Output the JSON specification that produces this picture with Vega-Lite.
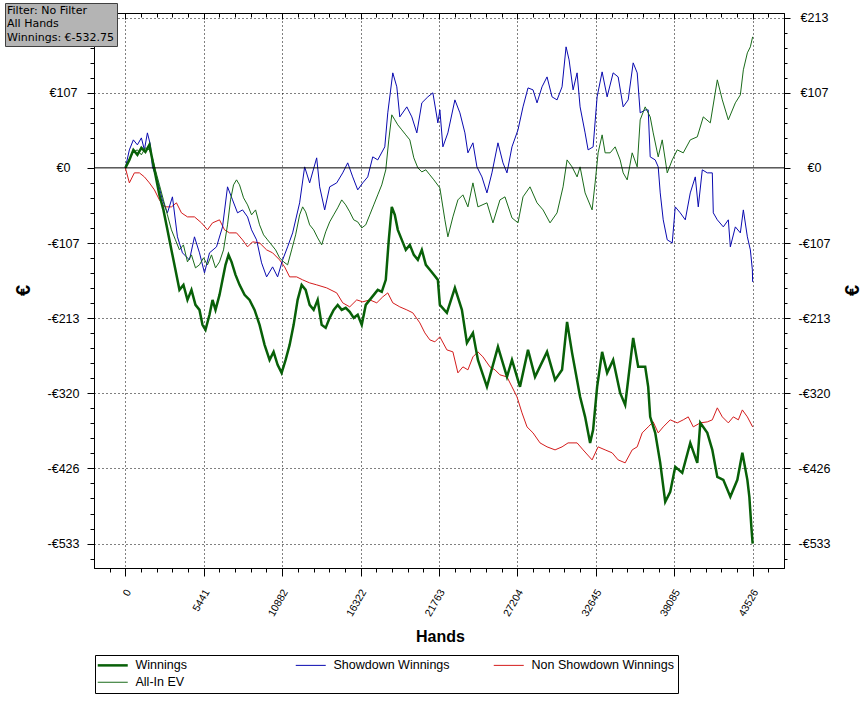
{
  "$schema": "https://vega.github.io/schema/vega-lite/v6.json",
  "autosize": "none",
  "width": 690,
  "height": 555,
  "padding": {"left": 94, "top": 13, "right": 80, "bottom": 134},
  "background": "white",
  "config": {
    "view": {"stroke": "black", "strokeWidth": 1},
    "axis": {"labelColor": "black", "tickColor": "black", "domainColor": "black", "titleColor": "black", "titleFont": "Liberation Sans", "titleFontWeight": "bold"}
  },
  "resolve": {"axis": {"x": "independent", "y": "independent"}},
  "layer": [
    {
      "data": {"values": [
        {"s":"Non Showdown Winnings","h":0,"v":0},{"s":"Non Showdown Winnings","h":278,"v":-21.3},{"s":"Non Showdown Winnings","h":626,"v":-7.1},{"s":"Non Showdown Winnings","h":973,"v":-7.1},{"s":"Non Showdown Winnings","h":1321,"v":-12.8},{"s":"Non Showdown Winnings","h":1668,"v":-21.3},{"s":"Non Showdown Winnings","h":2016,"v":-31.2},{"s":"Non Showdown Winnings","h":2363,"v":-45.4},{"s":"Non Showdown Winnings","h":2711,"v":-55.3},{"s":"Non Showdown Winnings","h":3197,"v":-55.3},{"s":"Non Showdown Winnings","h":3545,"v":-49.6},{"s":"Non Showdown Winnings","h":3892,"v":-63.8},{"s":"Non Showdown Winnings","h":4309,"v":-69.5},{"s":"Non Showdown Winnings","h":4796,"v":-69.5},{"s":"Non Showdown Winnings","h":5282,"v":-78.0},{"s":"Non Showdown Winnings","h":5699,"v":-87.9},{"s":"Non Showdown Winnings","h":6047,"v":-78.0},{"s":"Non Showdown Winnings","h":6533,"v":-73.7},{"s":"Non Showdown Winnings","h":6881,"v":-87.9},{"s":"Non Showdown Winnings","h":7228,"v":-92.2},{"s":"Non Showdown Winnings","h":7715,"v":-92.2},{"s":"Non Showdown Winnings","h":8132,"v":-102.1},{"s":"Non Showdown Winnings","h":8479,"v":-112.0},{"s":"Non Showdown Winnings","h":8827,"v":-104.9},{"s":"Non Showdown Winnings","h":9313,"v":-106.4},{"s":"Non Showdown Winnings","h":9800,"v":-116.3},{"s":"Non Showdown Winnings","h":10217,"v":-120.5},{"s":"Non Showdown Winnings","h":10703,"v":-130.5},{"s":"Non Showdown Winnings","h":11051,"v":-140.4},{"s":"Non Showdown Winnings","h":11398,"v":-154.6},{"s":"Non Showdown Winnings","h":11885,"v":-154.6},{"s":"Non Showdown Winnings","h":12302,"v":-158.8},{"s":"Non Showdown Winnings","h":12788,"v":-163.1},{"s":"Non Showdown Winnings","h":13275,"v":-165.9},{"s":"Non Showdown Winnings","h":13970,"v":-170.2},{"s":"Non Showdown Winnings","h":14665,"v":-177.3},{"s":"Non Showdown Winnings","h":15082,"v":-191.4},{"s":"Non Showdown Winnings","h":15568,"v":-197.1},{"s":"Non Showdown Winnings","h":16055,"v":-187.2},{"s":"Non Showdown Winnings","h":16472,"v":-190.0},{"s":"Non Showdown Winnings","h":16958,"v":-187.2},{"s":"Non Showdown Winnings","h":17445,"v":-191.4},{"s":"Non Showdown Winnings","h":17862,"v":-182.9},{"s":"Non Showdown Winnings","h":18209,"v":-177.3},{"s":"Non Showdown Winnings","h":18557,"v":-191.4},{"s":"Non Showdown Winnings","h":19043,"v":-197.1},{"s":"Non Showdown Winnings","h":19530,"v":-201.4},{"s":"Non Showdown Winnings","h":19947,"v":-205.6},{"s":"Non Showdown Winnings","h":20433,"v":-219.8},{"s":"Non Showdown Winnings","h":20781,"v":-234.0},{"s":"Non Showdown Winnings","h":21128,"v":-243.9},{"s":"Non Showdown Winnings","h":21476,"v":-246.7},{"s":"Non Showdown Winnings","h":21823,"v":-239.6},{"s":"Non Showdown Winnings","h":22310,"v":-258.1},{"s":"Non Showdown Winnings","h":22727,"v":-260.9},{"s":"Non Showdown Winnings","h":23074,"v":-290.7},{"s":"Non Showdown Winnings","h":23422,"v":-282.2},{"s":"Non Showdown Winnings","h":23769,"v":-286.4},{"s":"Non Showdown Winnings","h":24117,"v":-268.0},{"s":"Non Showdown Winnings","h":24464,"v":-260.9},{"s":"Non Showdown Winnings","h":24812,"v":-268.0},{"s":"Non Showdown Winnings","h":25298,"v":-282.2},{"s":"Non Showdown Winnings","h":25646,"v":-286.4},{"s":"Non Showdown Winnings","h":25993,"v":-293.5},{"s":"Non Showdown Winnings","h":26480,"v":-296.4},{"s":"Non Showdown Winnings","h":26827,"v":-310.5},{"s":"Non Showdown Winnings","h":27175,"v":-324.7},{"s":"Non Showdown Winnings","h":27522,"v":-347.4},{"s":"Non Showdown Winnings","h":27870,"v":-367.3},{"s":"Non Showdown Winnings","h":28287,"v":-375.8},{"s":"Non Showdown Winnings","h":28773,"v":-390.0},{"s":"Non Showdown Winnings","h":29260,"v":-395.6},{"s":"Non Showdown Winnings","h":29816,"v":-399.9},{"s":"Non Showdown Winnings","h":30302,"v":-395.6},{"s":"Non Showdown Winnings","h":30719,"v":-390.0},{"s":"Non Showdown Winnings","h":31345,"v":-390.0},{"s":"Non Showdown Winnings","h":31762,"v":-399.9},{"s":"Non Showdown Winnings","h":32387,"v":-414.1},{"s":"Non Showdown Winnings","h":32804,"v":-395.6},{"s":"Non Showdown Winnings","h":33291,"v":-399.9},{"s":"Non Showdown Winnings","h":33777,"v":-404.1},{"s":"Non Showdown Winnings","h":34194,"v":-414.1},{"s":"Non Showdown Winnings","h":34681,"v":-418.3},{"s":"Non Showdown Winnings","h":35167,"v":-399.9},{"s":"Non Showdown Winnings","h":35515,"v":-395.6},{"s":"Non Showdown Winnings","h":35862,"v":-375.8},{"s":"Non Showdown Winnings","h":36279,"v":-367.3},{"s":"Non Showdown Winnings","h":36627,"v":-360.2},{"s":"Non Showdown Winnings","h":36974,"v":-375.8},{"s":"Non Showdown Winnings","h":37322,"v":-367.3},{"s":"Non Showdown Winnings","h":37808,"v":-357.3},{"s":"Non Showdown Winnings","h":38295,"v":-361.6},{"s":"Non Showdown Winnings","h":38712,"v":-357.3},{"s":"Non Showdown Winnings","h":39059,"v":-353.1},{"s":"Non Showdown Winnings","h":39407,"v":-367.3},{"s":"Non Showdown Winnings","h":39893,"v":-361.6},{"s":"Non Showdown Winnings","h":40380,"v":-360.2},{"s":"Non Showdown Winnings","h":40727,"v":-357.3},{"s":"Non Showdown Winnings","h":41075,"v":-340.3},{"s":"Non Showdown Winnings","h":41422,"v":-353.1},{"s":"Non Showdown Winnings","h":41839,"v":-361.6},{"s":"Non Showdown Winnings","h":42187,"v":-353.1},{"s":"Non Showdown Winnings","h":42534,"v":-357.3},{"s":"Non Showdown Winnings","h":42812,"v":-343.2},{"s":"Non Showdown Winnings","h":43160,"v":-353.1},{"s":"Non Showdown Winnings","h":43526,"v":-367.3},

        {"s":"Showdown Winnings","h":0,"v":0},{"s":"Showdown Winnings","h":278,"v":25.5},{"s":"Showdown Winnings","h":556,"v":39.7},{"s":"Showdown Winnings","h":834,"v":32.6},{"s":"Showdown Winnings","h":1112,"v":42.5},{"s":"Showdown Winnings","h":1321,"v":25.5},{"s":"Showdown Winnings","h":1529,"v":49.6},{"s":"Showdown Winnings","h":1738,"v":32.6},{"s":"Showdown Winnings","h":1877,"v":1.4},{"s":"Showdown Winnings","h":2224,"v":-17.0},{"s":"Showdown Winnings","h":2572,"v":-45.4},{"s":"Showdown Winnings","h":2919,"v":-63.8},{"s":"Showdown Winnings","h":3267,"v":-41.1},{"s":"Showdown Winnings","h":3614,"v":-97.8},{"s":"Showdown Winnings","h":3962,"v":-120.5},{"s":"Showdown Winnings","h":4448,"v":-130.5},{"s":"Showdown Winnings","h":4796,"v":-97.8},{"s":"Showdown Winnings","h":5143,"v":-120.5},{"s":"Showdown Winnings","h":5491,"v":-148.9},{"s":"Showdown Winnings","h":5838,"v":-120.5},{"s":"Showdown Winnings","h":6325,"v":-112.0},{"s":"Showdown Winnings","h":6742,"v":-83.7},{"s":"Showdown Winnings","h":7089,"v":-26.9},{"s":"Showdown Winnings","h":7437,"v":-45.4},{"s":"Showdown Winnings","h":7784,"v":-63.8},{"s":"Showdown Winnings","h":8132,"v":-59.6},{"s":"Showdown Winnings","h":8479,"v":-69.5},{"s":"Showdown Winnings","h":8757,"v":-87.9},{"s":"Showdown Winnings","h":9105,"v":-102.1},{"s":"Showdown Winnings","h":9452,"v":-134.7},{"s":"Showdown Winnings","h":9800,"v":-154.6},{"s":"Showdown Winnings","h":10217,"v":-140.4},{"s":"Showdown Winnings","h":10564,"v":-154.6},{"s":"Showdown Winnings","h":10912,"v":-130.5},{"s":"Showdown Winnings","h":11259,"v":-112.0},{"s":"Showdown Winnings","h":11607,"v":-92.2},{"s":"Showdown Winnings","h":12093,"v":-49.6},{"s":"Showdown Winnings","h":12441,"v":1.4},{"s":"Showdown Winnings","h":12788,"v":-21.3},{"s":"Showdown Winnings","h":13275,"v":14.2},{"s":"Showdown Winnings","h":13483,"v":-26.9},{"s":"Showdown Winnings","h":13831,"v":-59.6},{"s":"Showdown Winnings","h":14178,"v":-26.9},{"s":"Showdown Winnings","h":14665,"v":-21.3},{"s":"Showdown Winnings","h":15082,"v":-7.1},{"s":"Showdown Winnings","h":15429,"v":7.1},{"s":"Showdown Winnings","h":15777,"v":-12.8},{"s":"Showdown Winnings","h":16124,"v":-31.2},{"s":"Showdown Winnings","h":16472,"v":-21.3},{"s":"Showdown Winnings","h":16819,"v":-12.8},{"s":"Showdown Winnings","h":17167,"v":15.6},{"s":"Showdown Winnings","h":17514,"v":11.3},{"s":"Showdown Winnings","h":18001,"v":29.8},{"s":"Showdown Winnings","h":18209,"v":78.0},{"s":"Showdown Winnings","h":18557,"v":134.7},{"s":"Showdown Winnings","h":18835,"v":114.9},{"s":"Showdown Winnings","h":19043,"v":72.3},{"s":"Showdown Winnings","h":19530,"v":86.5},{"s":"Showdown Winnings","h":19877,"v":72.3},{"s":"Showdown Winnings","h":20225,"v":49.6},{"s":"Showdown Winnings","h":20572,"v":92.2},{"s":"Showdown Winnings","h":20989,"v":100.7},{"s":"Showdown Winnings","h":21337,"v":106.4},{"s":"Showdown Winnings","h":21684,"v":63.8},{"s":"Showdown Winnings","h":21823,"v":82.2},{"s":"Showdown Winnings","h":22032,"v":29.8},{"s":"Showdown Winnings","h":22379,"v":49.6},{"s":"Showdown Winnings","h":22866,"v":96.4},{"s":"Showdown Winnings","h":23213,"v":78.0},{"s":"Showdown Winnings","h":23561,"v":49.6},{"s":"Showdown Winnings","h":23769,"v":21.3},{"s":"Showdown Winnings","h":24117,"v":35.5},{"s":"Showdown Winnings","h":24395,"v":1.4},{"s":"Showdown Winnings","h":24742,"v":-12.8},{"s":"Showdown Winnings","h":25090,"v":-35.5},{"s":"Showdown Winnings","h":25437,"v":-7.1},{"s":"Showdown Winnings","h":25854,"v":35.5},{"s":"Showdown Winnings","h":26202,"v":7.1},{"s":"Showdown Winnings","h":26480,"v":-7.1},{"s":"Showdown Winnings","h":26827,"v":29.8},{"s":"Showdown Winnings","h":27244,"v":53.9},{"s":"Showdown Winnings","h":27592,"v":86.5},{"s":"Showdown Winnings","h":27939,"v":113.4},{"s":"Showdown Winnings","h":28287,"v":110.6},{"s":"Showdown Winnings","h":28565,"v":92.2},{"s":"Showdown Winnings","h":28912,"v":114.9},{"s":"Showdown Winnings","h":29260,"v":129.0},{"s":"Showdown Winnings","h":29607,"v":100.7},{"s":"Showdown Winnings","h":29955,"v":96.4},{"s":"Showdown Winnings","h":30302,"v":114.9},{"s":"Showdown Winnings","h":30580,"v":171.6},{"s":"Showdown Winnings","h":30789,"v":153.1},{"s":"Showdown Winnings","h":31067,"v":110.6},{"s":"Showdown Winnings","h":31345,"v":134.7},{"s":"Showdown Winnings","h":31553,"v":86.5},{"s":"Showdown Winnings","h":31901,"v":49.6},{"s":"Showdown Winnings","h":32109,"v":25.5},{"s":"Showdown Winnings","h":32457,"v":29.8},{"s":"Showdown Winnings","h":32735,"v":100.7},{"s":"Showdown Winnings","h":33082,"v":136.1},{"s":"Showdown Winnings","h":33430,"v":100.7},{"s":"Showdown Winnings","h":33847,"v":134.7},{"s":"Showdown Winnings","h":34194,"v":129.0},{"s":"Showdown Winnings","h":34542,"v":86.5},{"s":"Showdown Winnings","h":34889,"v":96.4},{"s":"Showdown Winnings","h":35237,"v":148.9},{"s":"Showdown Winnings","h":35515,"v":134.7},{"s":"Showdown Winnings","h":35723,"v":78.0},{"s":"Showdown Winnings","h":36071,"v":82.2},{"s":"Showdown Winnings","h":36279,"v":82.2},{"s":"Showdown Winnings","h":36418,"v":15.6},{"s":"Showdown Winnings","h":36766,"v":11.3},{"s":"Showdown Winnings","h":36974,"v":1.4},{"s":"Showdown Winnings","h":37113,"v":-35.5},{"s":"Showdown Winnings","h":37322,"v":-73.7},{"s":"Showdown Winnings","h":37600,"v":-102.1},{"s":"Showdown Winnings","h":37947,"v":-106.4},{"s":"Showdown Winnings","h":38156,"v":-55.3},{"s":"Showdown Winnings","h":38503,"v":-63.8},{"s":"Showdown Winnings","h":38851,"v":-73.7},{"s":"Showdown Winnings","h":39198,"v":-35.5},{"s":"Showdown Winnings","h":39546,"v":-12.8},{"s":"Showdown Winnings","h":39754,"v":-55.3},{"s":"Showdown Winnings","h":40032,"v":-2.8},{"s":"Showdown Winnings","h":40380,"v":-7.1},{"s":"Showdown Winnings","h":40727,"v":-7.1},{"s":"Showdown Winnings","h":40797,"v":-63.8},{"s":"Showdown Winnings","h":41075,"v":-73.7},{"s":"Showdown Winnings","h":41492,"v":-83.7},{"s":"Showdown Winnings","h":41839,"v":-73.7},{"s":"Showdown Winnings","h":41978,"v":-112.0},{"s":"Showdown Winnings","h":42326,"v":-83.7},{"s":"Showdown Winnings","h":42673,"v":-92.2},{"s":"Showdown Winnings","h":42882,"v":-59.6},{"s":"Showdown Winnings","h":43160,"v":-97.8},{"s":"Showdown Winnings","h":43368,"v":-116.3},{"s":"Showdown Winnings","h":43507,"v":-144.6},{"s":"Showdown Winnings","h":43526,"v":-161.7},

        {"s":"All-In EV","h":0,"v":0},{"s":"All-In EV","h":278,"v":11.3},{"s":"All-In EV","h":556,"v":22.7},{"s":"All-In EV","h":834,"v":25.5},{"s":"All-In EV","h":1112,"v":18.4},{"s":"All-In EV","h":1390,"v":28.4},{"s":"All-In EV","h":1668,"v":25.5},{"s":"All-In EV","h":1877,"v":14.2},{"s":"All-In EV","h":2085,"v":-2.8},{"s":"All-In EV","h":2363,"v":-24.1},{"s":"All-In EV","h":2641,"v":-45.4},{"s":"All-In EV","h":2919,"v":-66.6},{"s":"All-In EV","h":3197,"v":-87.9},{"s":"All-In EV","h":3475,"v":-102.1},{"s":"All-In EV","h":3753,"v":-116.3},{"s":"All-In EV","h":4031,"v":-109.2},{"s":"All-In EV","h":4309,"v":-133.3},{"s":"All-In EV","h":4587,"v":-123.4},{"s":"All-In EV","h":4865,"v":-141.8},{"s":"All-In EV","h":5143,"v":-137.5},{"s":"All-In EV","h":5421,"v":-127.6},{"s":"All-In EV","h":5699,"v":-137.5},{"s":"All-In EV","h":5977,"v":-123.4},{"s":"All-In EV","h":6255,"v":-141.8},{"s":"All-In EV","h":6533,"v":-133.3},{"s":"All-In EV","h":6811,"v":-116.3},{"s":"All-In EV","h":7089,"v":-80.8},{"s":"All-In EV","h":7298,"v":-45.4},{"s":"All-In EV","h":7506,"v":-24.1},{"s":"All-In EV","h":7715,"v":-17.0},{"s":"All-In EV","h":7923,"v":-24.1},{"s":"All-In EV","h":8201,"v":-42.5},{"s":"All-In EV","h":8479,"v":-52.5},{"s":"All-In EV","h":8757,"v":-66.6},{"s":"All-In EV","h":9035,"v":-59.6},{"s":"All-In EV","h":9313,"v":-80.8},{"s":"All-In EV","h":9591,"v":-95.0},{"s":"All-In EV","h":9869,"v":-102.1},{"s":"All-In EV","h":10147,"v":-109.2},{"s":"All-In EV","h":10425,"v":-116.3},{"s":"All-In EV","h":10703,"v":-127.6},{"s":"All-In EV","h":10981,"v":-133.3},{"s":"All-In EV","h":11259,"v":-137.5},{"s":"All-In EV","h":11537,"v":-116.3},{"s":"All-In EV","h":11815,"v":-95.0},{"s":"All-In EV","h":12093,"v":-66.6},{"s":"All-In EV","h":12302,"v":-55.3},{"s":"All-In EV","h":12510,"v":-62.4},{"s":"All-In EV","h":12788,"v":-80.8},{"s":"All-In EV","h":13066,"v":-87.9},{"s":"All-In EV","h":13344,"v":-99.3},{"s":"All-In EV","h":13622,"v":-109.2},{"s":"All-In EV","h":13900,"v":-90.8},{"s":"All-In EV","h":14178,"v":-76.6},{"s":"All-In EV","h":14456,"v":-66.6},{"s":"All-In EV","h":14734,"v":-56.7},{"s":"All-In EV","h":15012,"v":-45.4},{"s":"All-In EV","h":15290,"v":-52.5},{"s":"All-In EV","h":15568,"v":-62.4},{"s":"All-In EV","h":15846,"v":-73.7},{"s":"All-In EV","h":16124,"v":-76.6},{"s":"All-In EV","h":16402,"v":-85.1},{"s":"All-In EV","h":16680,"v":-80.8},{"s":"All-In EV","h":16958,"v":-66.6},{"s":"All-In EV","h":17236,"v":-52.5},{"s":"All-In EV","h":17514,"v":-38.3},{"s":"All-In EV","h":17792,"v":-24.1},{"s":"All-In EV","h":18070,"v":-2.8},{"s":"All-In EV","h":18279,"v":39.7},{"s":"All-In EV","h":18487,"v":75.2},{"s":"All-In EV","h":18696,"v":68.1},{"s":"All-In EV","h":18904,"v":61.0},{"s":"All-In EV","h":19182,"v":53.9},{"s":"All-In EV","h":19460,"v":46.8},{"s":"All-In EV","h":19738,"v":39.7},{"s":"All-In EV","h":20016,"v":14.2},{"s":"All-In EV","h":20294,"v":0},{"s":"All-In EV","h":20572,"v":-5.7},{"s":"All-In EV","h":20850,"v":-2.8},{"s":"All-In EV","h":21128,"v":-9.9},{"s":"All-In EV","h":21406,"v":-17.0},{"s":"All-In EV","h":21823,"v":-28.4},{"s":"All-In EV","h":22171,"v":-73.7},{"s":"All-In EV","h":22379,"v":-97.8},{"s":"All-In EV","h":22727,"v":-69.5},{"s":"All-In EV","h":23074,"v":-45.4},{"s":"All-In EV","h":23422,"v":-38.3},{"s":"All-In EV","h":23769,"v":-55.3},{"s":"All-In EV","h":24117,"v":-21.3},{"s":"All-In EV","h":24464,"v":-55.3},{"s":"All-In EV","h":25090,"v":-49.6},{"s":"All-In EV","h":25507,"v":-78.0},{"s":"All-In EV","h":25993,"v":-45.4},{"s":"All-In EV","h":26341,"v":-41.1},{"s":"All-In EV","h":26827,"v":-70.9},{"s":"All-In EV","h":27244,"v":-78.0},{"s":"All-In EV","h":27592,"v":-41.1},{"s":"All-In EV","h":28078,"v":-26.9},{"s":"All-In EV","h":28565,"v":-49.6},{"s":"All-In EV","h":28982,"v":-59.6},{"s":"All-In EV","h":29468,"v":-78.0},{"s":"All-In EV","h":29955,"v":-63.8},{"s":"All-In EV","h":30372,"v":-26.9},{"s":"All-In EV","h":30650,"v":11.3},{"s":"All-In EV","h":30997,"v":1.4},{"s":"All-In EV","h":31345,"v":-12.8},{"s":"All-In EV","h":31553,"v":1.4},{"s":"All-In EV","h":31901,"v":-35.5},{"s":"All-In EV","h":32387,"v":-59.6},{"s":"All-In EV","h":32596,"v":-21.3},{"s":"All-In EV","h":32804,"v":21.3},{"s":"All-In EV","h":33082,"v":46.8},{"s":"All-In EV","h":33291,"v":21.3},{"s":"All-In EV","h":33638,"v":21.3},{"s":"All-In EV","h":33986,"v":29.8},{"s":"All-In EV","h":34333,"v":11.3},{"s":"All-In EV","h":34542,"v":-7.1},{"s":"All-In EV","h":34820,"v":-17.0},{"s":"All-In EV","h":35167,"v":21.3},{"s":"All-In EV","h":35515,"v":1.4},{"s":"All-In EV","h":35723,"v":68.1},{"s":"All-In EV","h":36071,"v":86.5},{"s":"All-In EV","h":36418,"v":72.3},{"s":"All-In EV","h":36627,"v":49.6},{"s":"All-In EV","h":36974,"v":15.6},{"s":"All-In EV","h":37252,"v":39.7},{"s":"All-In EV","h":37600,"v":-7.1},{"s":"All-In EV","h":37947,"v":11.3},{"s":"All-In EV","h":38295,"v":25.5},{"s":"All-In EV","h":38712,"v":21.3},{"s":"All-In EV","h":39198,"v":39.7},{"s":"All-In EV","h":39685,"v":44.0},{"s":"All-In EV","h":40102,"v":72.3},{"s":"All-In EV","h":40588,"v":63.8},{"s":"All-In EV","h":41075,"v":124.8},{"s":"All-In EV","h":41422,"v":96.4},{"s":"All-In EV","h":41839,"v":68.1},{"s":"All-In EV","h":42326,"v":92.2},{"s":"All-In EV","h":42673,"v":103.5},{"s":"All-In EV","h":42882,"v":139.0},{"s":"All-In EV","h":43160,"v":163.1},{"s":"All-In EV","h":43368,"v":171.6},{"s":"All-In EV","h":43526,"v":185.8},

        {"s":"Winnings","h":0,"v":0},{"s":"Winnings","h":278,"v":11.3},{"s":"Winnings","h":556,"v":25.5},{"s":"Winnings","h":834,"v":18.4},{"s":"Winnings","h":1112,"v":28.4},{"s":"Winnings","h":1390,"v":22.7},{"s":"Winnings","h":1668,"v":32.6},{"s":"Winnings","h":1877,"v":11.3},{"s":"Winnings","h":2085,"v":-9.9},{"s":"Winnings","h":2363,"v":-38.3},{"s":"Winnings","h":2641,"v":-59.6},{"s":"Winnings","h":2919,"v":-87.9},{"s":"Winnings","h":3197,"v":-116.3},{"s":"Winnings","h":3475,"v":-144.6},{"s":"Winnings","h":3753,"v":-172.9},{"s":"Winnings","h":4031,"v":-165.9},{"s":"Winnings","h":4309,"v":-187.2},{"s":"Winnings","h":4587,"v":-173.0},{"s":"Winnings","h":4865,"v":-194.3},{"s":"Winnings","h":5143,"v":-201.4},{"s":"Winnings","h":5352,"v":-222.6},{"s":"Winnings","h":5560,"v":-229.7},{"s":"Winnings","h":5838,"v":-208.4},{"s":"Winnings","h":6047,"v":-187.2},{"s":"Winnings","h":6255,"v":-201.4},{"s":"Winnings","h":6533,"v":-180.1},{"s":"Winnings","h":6742,"v":-158.8},{"s":"Winnings","h":6950,"v":-137.5},{"s":"Winnings","h":7159,"v":-123.4},{"s":"Winnings","h":7367,"v":-133.3},{"s":"Winnings","h":7645,"v":-151.7},{"s":"Winnings","h":7923,"v":-165.9},{"s":"Winnings","h":8271,"v":-180.1},{"s":"Winnings","h":8618,"v":-187.2},{"s":"Winnings","h":8966,"v":-201.4},{"s":"Winnings","h":9313,"v":-222.6},{"s":"Winnings","h":9661,"v":-251.0},{"s":"Winnings","h":10008,"v":-272.3},{"s":"Winnings","h":10286,"v":-260.9},{"s":"Winnings","h":10564,"v":-279.3},{"s":"Winnings","h":10842,"v":-290.7},{"s":"Winnings","h":11120,"v":-272.3},{"s":"Winnings","h":11398,"v":-251.0},{"s":"Winnings","h":11676,"v":-222.6},{"s":"Winnings","h":11954,"v":-187.2},{"s":"Winnings","h":12232,"v":-165.9},{"s":"Winnings","h":12510,"v":-173.0},{"s":"Winnings","h":12788,"v":-194.3},{"s":"Winnings","h":13066,"v":-201.4},{"s":"Winnings","h":13344,"v":-187.2},{"s":"Winnings","h":13622,"v":-222.6},{"s":"Winnings","h":13900,"v":-226.9},{"s":"Winnings","h":14178,"v":-212.7},{"s":"Winnings","h":14456,"v":-201.4},{"s":"Winnings","h":14734,"v":-194.3},{"s":"Winnings","h":15012,"v":-201.4},{"s":"Winnings","h":15290,"v":-198.5},{"s":"Winnings","h":15568,"v":-204.2},{"s":"Winnings","h":15846,"v":-212.7},{"s":"Winnings","h":16124,"v":-208.4},{"s":"Winnings","h":16402,"v":-222.6},{"s":"Winnings","h":16680,"v":-194.3},{"s":"Winnings","h":16958,"v":-187.2},{"s":"Winnings","h":17236,"v":-180.1},{"s":"Winnings","h":17514,"v":-173.0},{"s":"Winnings","h":17792,"v":-175.8},{"s":"Winnings","h":18070,"v":-158.8},{"s":"Winnings","h":18279,"v":-102.1},{"s":"Winnings","h":18487,"v":-55.3},{"s":"Winnings","h":18696,"v":-66.6},{"s":"Winnings","h":18904,"v":-87.9},{"s":"Winnings","h":19182,"v":-102.1},{"s":"Winnings","h":19460,"v":-116.3},{"s":"Winnings","h":19738,"v":-109.2},{"s":"Winnings","h":20016,"v":-123.4},{"s":"Winnings","h":20294,"v":-130.5},{"s":"Winnings","h":20572,"v":-116.3},{"s":"Winnings","h":20850,"v":-137.5},{"s":"Winnings","h":21128,"v":-144.6},{"s":"Winnings","h":21406,"v":-151.7},{"s":"Winnings","h":21684,"v":-158.8},{"s":"Winnings","h":21823,"v":-194.3},{"s":"Winnings","h":22310,"v":-205.6},{"s":"Winnings","h":22866,"v":-170.2},{"s":"Winnings","h":23352,"v":-201.4},{"s":"Winnings","h":23700,"v":-248.2},{"s":"Winnings","h":24117,"v":-234.0},{"s":"Winnings","h":24464,"v":-272.3},{"s":"Winnings","h":25090,"v":-310.5},{"s":"Winnings","h":25854,"v":-253.8},{"s":"Winnings","h":26480,"v":-296.4},{"s":"Winnings","h":26827,"v":-272.3},{"s":"Winnings","h":27383,"v":-310.5},{"s":"Winnings","h":27939,"v":-258.1},{"s":"Winnings","h":28426,"v":-296.4},{"s":"Winnings","h":29260,"v":-260.9},{"s":"Winnings","h":29816,"v":-300.6},{"s":"Winnings","h":30302,"v":-286.4},{"s":"Winnings","h":30650,"v":-218.4},{"s":"Winnings","h":30997,"v":-262.3},{"s":"Winnings","h":31553,"v":-324.7},{"s":"Winnings","h":31901,"v":-353.1},{"s":"Winnings","h":32248,"v":-390.0},{"s":"Winnings","h":32457,"v":-371.5},{"s":"Winnings","h":32735,"v":-310.5},{"s":"Winnings","h":33082,"v":-260.9},{"s":"Winnings","h":33430,"v":-290.7},{"s":"Winnings","h":33847,"v":-272.3},{"s":"Winnings","h":34333,"v":-319.1},{"s":"Winnings","h":34681,"v":-336.1},{"s":"Winnings","h":35237,"v":-241.1},{"s":"Winnings","h":35584,"v":-282.2},{"s":"Winnings","h":36071,"v":-282.2},{"s":"Winnings","h":36279,"v":-310.5},{"s":"Winnings","h":36418,"v":-353.1},{"s":"Winnings","h":36766,"v":-375.8},{"s":"Winnings","h":37113,"v":-418.3},{"s":"Winnings","h":37461,"v":-473.6},{"s":"Winnings","h":37808,"v":-459.4},{"s":"Winnings","h":38156,"v":-424.0},{"s":"Winnings","h":38642,"v":-432.5},{"s":"Winnings","h":39198,"v":-390.0},{"s":"Winnings","h":39685,"v":-418.3},{"s":"Winnings","h":39893,"v":-361.6},{"s":"Winnings","h":40380,"v":-375.8},{"s":"Winnings","h":40727,"v":-399.9},{"s":"Winnings","h":41075,"v":-438.2},{"s":"Winnings","h":41492,"v":-442.4},{"s":"Winnings","h":41978,"v":-466.5},{"s":"Winnings","h":42465,"v":-442.4},{"s":"Winnings","h":42812,"v":-404.1},{"s":"Winnings","h":43160,"v":-442.4},{"s":"Winnings","h":43298,"v":-466.5},{"s":"Winnings","h":43437,"v":-509.1},{"s":"Winnings","h":43526,"v":-532.75}
      ]},
      "mark": {"type": "line", "strokeJoin": "miter"},
      "encoding": {
        "x": {
          "field": "h", "type": "quantitative",
          "scale": {"domain": [-2176, 45702], "nice": false, "zero": false},
          "axis": {
            "orient": "bottom",
            "values": [-1088,0,1088,2176,3265,4353,5441,6529,7617,8705,9793,10882,11970,13058,14146,15234,16322,17410,18499,19587,20675,21763,22851,23939,25027,26116,27204,28292,29380,30468,31556,32645,33733,34821,35909,36997,38085,39173,40262,41350,42438,43526,44614],
            "labelExpr": "abs(datum.value / 5440.75 - round(datum.value / 5440.75)) < 0.01 ? format(datum.value, 'd') : ''",
            "labelAngle": -60, "labelAlign": "right", "labelBaseline": "middle",
            "labelPadding": 14, "labelOffset": 3,
            "labelFont": "Liberation Sans", "labelFontSize": 10.5,
            "labelOverlap": false, "labelFlush": false, "labelBound": false,
            "tickSize": {"condition": {"test": "abs(datum.value / 5440.75 - round(datum.value / 5440.75)) < 0.01", "value": 8}, "value": 4},
            "grid": true, "gridColor": "black", "gridDash": [1, 3],
            "gridOpacity": {"condition": {"test": "abs(datum.value / 5440.75 - round(datum.value / 5440.75)) < 0.01", "value": 1}, "value": 0},
            "title": "Hands", "titleFontSize": 16, "titleX": 346, "titleY": 68, "titleAlign": "center", "titleBaseline": "middle"
          }
        },
        "y": {
          "field": "v", "type": "quantitative",
          "scale": {"domain": [-567.4, 219.6], "nice": false, "zero": false},
          "axis": {
            "orient": "left",
            "values": [-554.06,-532.75,-511.44,-490.13,-468.82,-447.51,-426.2,-404.89,-383.58,-362.27,-340.96,-319.65,-298.34,-277.03,-255.72,-234.41,-213.1,-191.79,-170.48,-149.17,-127.86,-106.55,-85.24,-63.93,-42.62,-21.31,0,21.31,42.62,63.93,85.24,106.55,127.86,149.17,170.48,191.79,213.1],
            "labelExpr": "abs(datum.value / 106.55 - round(datum.value / 106.55)) < 0.01 && datum.value < 200 ? (datum.value < -0.01 ? '-€' : '€') + format(abs(datum.value), '.0f') : ''",
            "labelAlign": "center", "labelBaseline": "middle", "labelPadding": 24,
            "labelFont": "Liberation Sans", "labelFontSize": 12.5,
            "labelOverlap": false, "labelFlush": false, "labelBound": false,
            "tickSize": {"condition": {"test": "abs(datum.value / 106.55 - round(datum.value / 106.55)) < 0.01", "value": 7}, "value": 4},
            "grid": true, "gridColor": "black", "gridDash": [1, 3],
            "gridOpacity": {"condition": {"test": "abs(datum.value / 106.55 - round(datum.value / 106.55)) < 0.01 && abs(datum.value) > 1", "value": 1}, "value": 0},
            "title": "€", "titleFontSize": 20, "titleAngle": -90, "titleX": -71, "titleY": 277, "titleAlign": "center", "titleBaseline": "middle"
          }
        },
        "color": {
          "field": "s", "type": "nominal",
          "scale": {"domain": ["Winnings", "Showdown Winnings", "Non Showdown Winnings", "All-In EV"], "range": ["#086008", "#0a0ab0", "#d41c1c", "#1a6b1a"]},
          "legend": {
            "title": null, "orient": "none", "legendX": 1, "legendY": 642,
            "direction": "horizontal", "columns": 3, "gridAlign": "all", "columnPadding": 15, "rowPadding": 4, "padding": 4,
            "strokeColor": "black", "fillColor": "white",
            "symbolType": "M-1,0H3", "symbolSize": 225, "labelOffset": 24,
            "labelFont": "Liberation Sans", "labelFontSize": 12.5, "labelColor": "black", "labelLimit": 300,
            "encode": {"symbols": {"update": {"strokeWidth": {"signal": "datum.value === 'Winnings' ? 2.5 : 1"}}}}
          }
        },
        "strokeWidth": {"condition": {"test": "datum.s === 'Winnings'", "value": 2.5}, "value": 1}
      }
    },
    {
      "data": {"values": [{"v": 0}]},
      "mark": {"type": "rule", "color": "black", "strokeWidth": 1},
      "encoding": {
        "x": {
          "datum": -2176, "type": "quantitative",
          "scale": {"domain": [-2176, 45702], "nice": false, "zero": false},
          "axis": {
            "orient": "top", "title": null, "labels": false, "grid": false,
            "values": [-1088,0,1088,2176,3265,4353,5441,6529,7617,8705,9793,10882,11970,13058,14146,15234,16322,17410,18499,19587,20675,21763,22851,23939,25027,26116,27204,28292,29380,30468,31556,32645,33733,34821,35909,36997,38085,39173,40262,41350,42438,43526,44614],
            "tickSize": {"condition": {"test": "abs(datum.value / 5440.75 - round(datum.value / 5440.75)) < 0.01", "value": -6}, "value": -4}
          }
        },
        "x2": {"datum": 45702},
        "y": {
          "field": "v", "type": "quantitative",
          "scale": {"domain": [-567.4, 219.6], "nice": false, "zero": false},
          "axis": {
            "orient": "right",
            "values": [-554.06,-532.75,-511.44,-490.13,-468.82,-447.51,-426.2,-404.89,-383.58,-362.27,-340.96,-319.65,-298.34,-277.03,-255.72,-234.41,-213.1,-191.79,-170.48,-149.17,-127.86,-106.55,-85.24,-63.93,-42.62,-21.31,0,21.31,42.62,63.93,85.24,106.55,127.86,149.17,170.48,191.79,213.1],
            "labelExpr": "abs(datum.value / 106.55 - round(datum.value / 106.55)) < 0.01 ? (datum.value < -0.01 ? '-€' : '€') + format(abs(datum.value), '.0f') : ''",
            "labelAlign": "center", "labelBaseline": "middle", "labelPadding": 24,
            "labelFont": "Liberation Sans", "labelFontSize": 12.5,
            "labelOverlap": false, "labelFlush": false, "labelBound": false,
            "tickSize": {"condition": {"test": "abs(datum.value / 106.55 - round(datum.value / 106.55)) < 0.01", "value": 6}, "value": 3},
            "grid": false,
            "title": "€", "titleFontSize": 20, "titleAngle": -90, "titleX": 68, "titleY": 277, "titleAlign": "center", "titleBaseline": "middle"
          }
        }
      }
    },
    {
      "data": {"values": [{"info": "Winnings: €-532.75"}]},
      "mark": {"type": "point", "opacity": 0},
      "encoding": {
        "shape": {
          "field": "info", "type": "nominal",
          "legend": {
            "title": ["Filter: No Filter", "All Hands", "Winnings: €-532.75"],
            "orient": "none", "legendX": -89, "legendY": -10,
            "titleFont": "DejaVu Sans", "titleFontSize": 11, "titleFontWeight": "normal", "titleColor": "black",
            "titleLineHeight": 13.3, "titlePadding": 0, "titleLimit": 300,
            "padding": 2, "labelExpr": "''", "labelFontSize": 1, "labelOffset": 0,
            "symbolSize": 0, "symbolOpacity": 0, "symbolStrokeWidth": 0,
            "fillColor": "#b4b4b4", "strokeColor": "#404040"
          }
        }
      }
    }
  ]
}
